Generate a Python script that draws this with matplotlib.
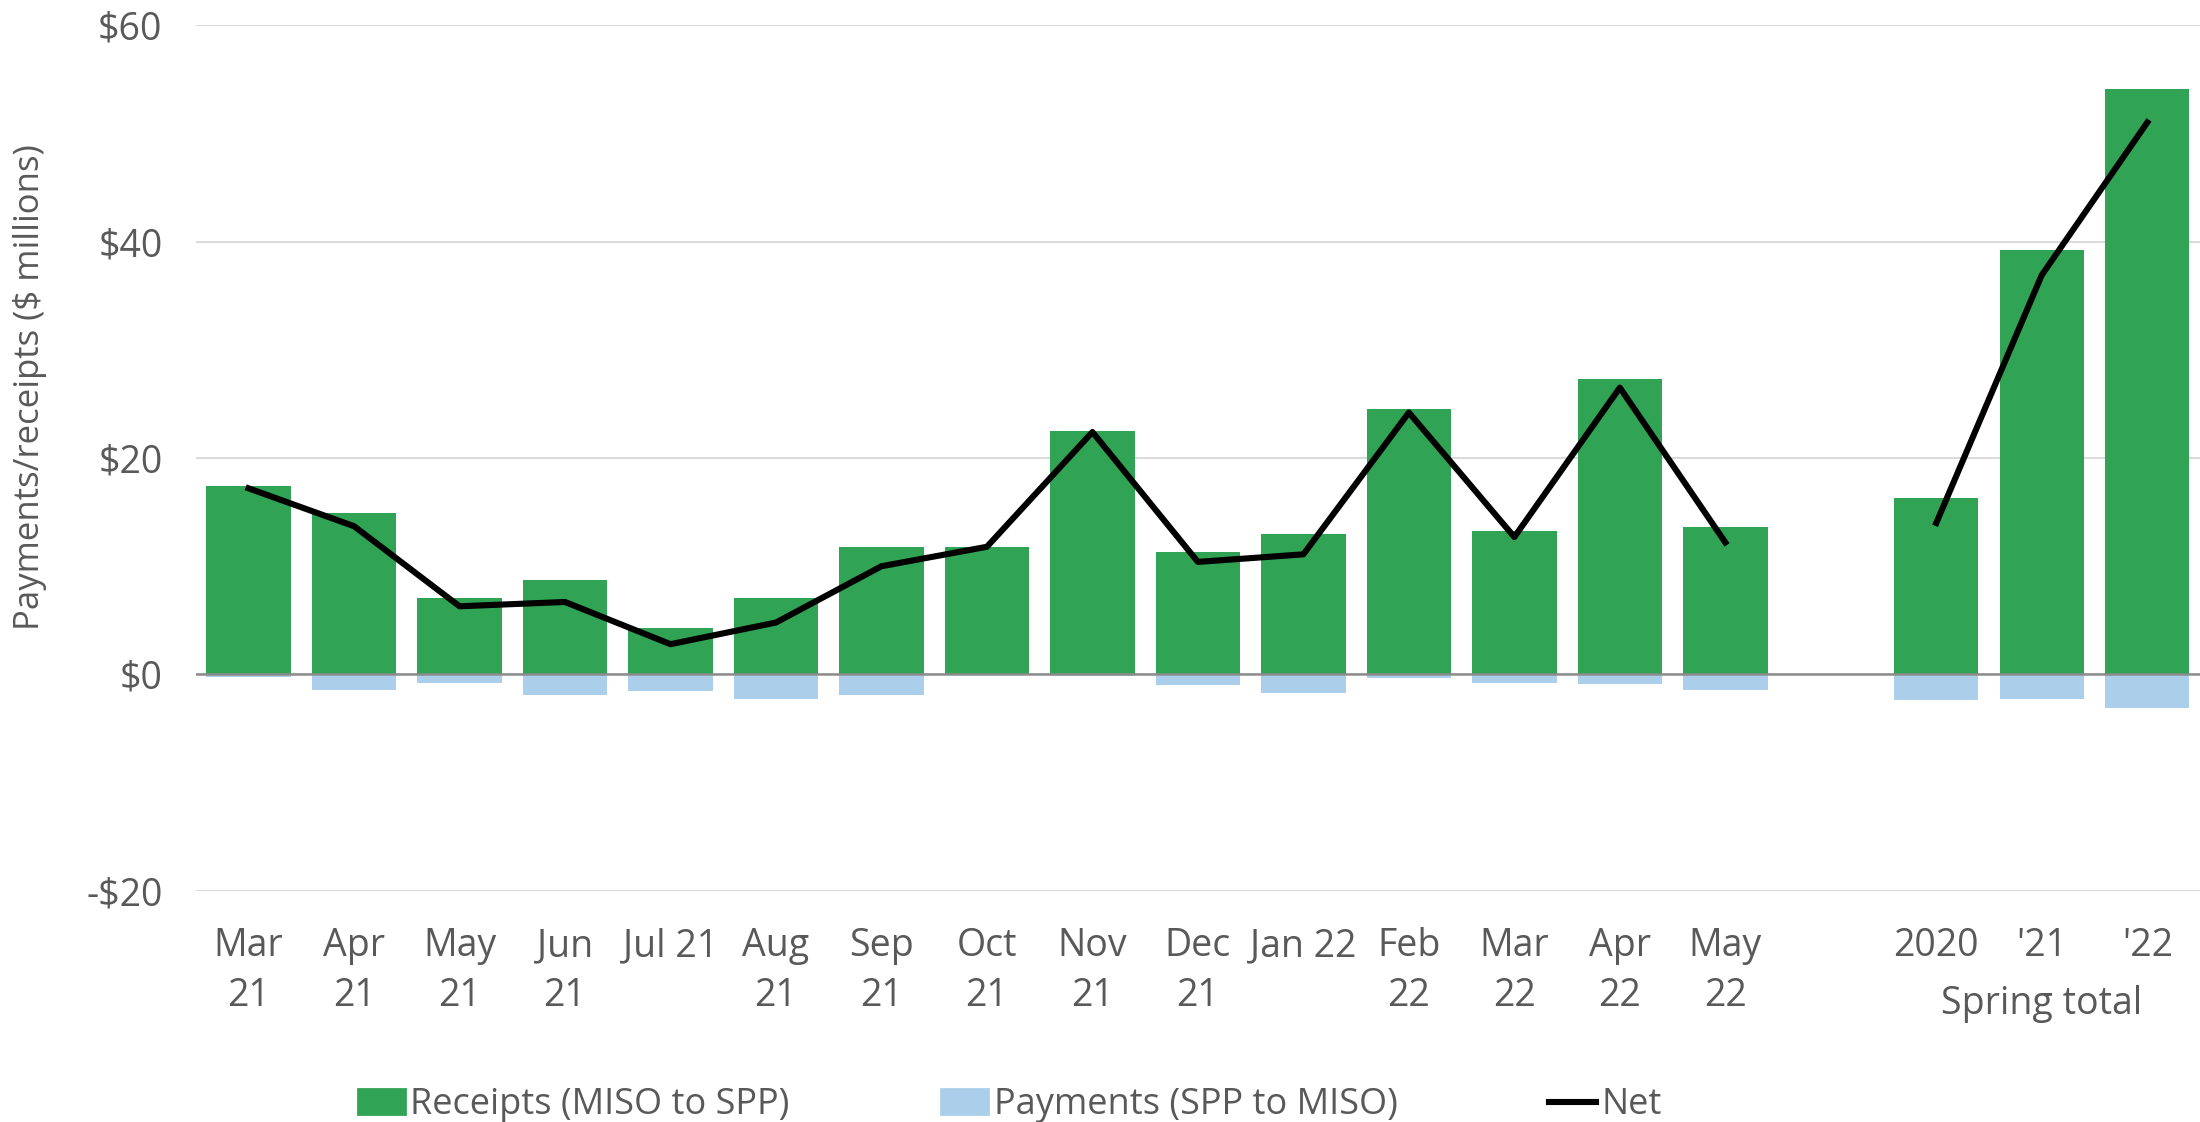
import numpy as np
import matplotlib
matplotlib.use("Agg")
import matplotlib.pyplot as plt
from matplotlib.lines import Line2D
from matplotlib.patches import Patch

# Categorías (posición 15 vacía = separación antes del total de primavera)
etiquetas = ["Mar\n21", "Apr\n21", "May\n21", "Jun\n21", "Jul 21", "Aug\n21",
             "Sep\n21", "Oct\n21", "Nov\n21", "Dec\n21", "Jan 22", "Feb\n22",
             "Mar\n22", "Apr\n22", "May\n22", "", "2020", "'21", "'22"]

# Valores ($ millones)
recibos = [17.4, 14.9, 7.1, 8.7, 4.3, 7.1, 11.8, 11.8, 22.5, 11.3, 13.0, 24.5,
           13.3, 27.3, 13.6, np.nan, 16.3, 39.2, 54.1]
pagos = [-0.25, -1.4, -0.8, -1.9, -1.5, -2.3, -1.9, -0.05, -0.15, -1.0, -1.75,
         -0.35, -0.8, -0.9, -1.45, np.nan, -2.35, -2.3, -3.1]
neto = [17.2, 13.7, 6.3, 6.7, 2.8, 4.8, 10.0, 11.8, 22.4, 10.4, 11.1, 24.2,
        12.7, 26.5, 12.2, np.nan, 14.0, 36.9, 51.0]

VERDE = "#31a354"
AZUL = "#abcfea"
GRIS_TXT = "#595959"

plt.rcParams["font.family"] = ["Open Sans", "DejaVu Sans"]

fig = plt.figure(figsize=(11, 5.61), dpi=200)
ax = fig.add_axes([0.089, 0.2059, 0.911, 0.7718])

x = np.arange(len(etiquetas))
ax.bar(x, recibos, width=0.8, color=VERDE, zorder=2)
ax.bar(x, pagos, width=0.8, color=AZUL, zorder=2)
ax.plot(x, neto, color="black", lw=2.2, zorder=4)

ax.set_xlim(-0.5, 18.5)
ax.set_ylim(-20, 60)
ax.set_yticks([-20, 0, 20, 40, 60])
ax.set_yticklabels(["-$20", "$0", "$20", "$40", "$60"])
ax.set_xticks(x)
ax.set_xticklabels(etiquetas, linespacing=1.4)

ax.grid(axis="y", color="#d9d9d9", lw=0.7, zorder=0)
ax.axhline(0, color="#8c8c8c", lw=0.9, zorder=3)
for s in ax.spines.values():
    s.set_visible(False)
ax.tick_params(axis="both", length=0, labelsize=13.5, colors=GRIS_TXT)
ax.tick_params(axis="y", pad=12)
ax.tick_params(axis="x", pad=13)

# rótulo del total de primavera, en la segunda línea bajo '21
ax.text(17, -0.108, "Spring total", transform=ax.get_xaxis_transform(),
        ha="center", va="top", fontsize=13.5, color=GRIS_TXT)

ax.set_ylabel("Payments/receipts ($ millions)", fontsize=12.5, color=GRIS_TXT)
ax.yaxis.set_label_coords(-0.074, 0.582)

handles = [Patch(color=VERDE), Patch(color=AZUL),
           Line2D([0], [0], color="black", lw=2.2)]
nombres = ["Receipts (MISO to SPP)", "Payments (SPP to MISO)", "Net"]
leg = fig.legend(handles, nombres, loc="lower center", ncol=3,
                 bbox_to_anchor=(0.459, -0.03), frameon=False, fontsize=13,
                 handlelength=1.3, handletextpad=0.15, columnspacing=4.2)
for t in leg.get_texts():
    t.set_color(GRIS_TXT)

fig.savefig("out.png", dpi=200)
